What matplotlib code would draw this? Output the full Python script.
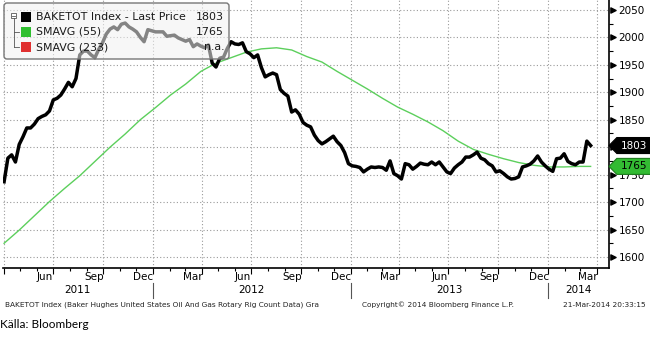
import matplotlib
matplotlib.use('Agg')
import matplotlib.pyplot as plt
import matplotlib.dates as mdates
from matplotlib.patches import FancyBboxPatch, Polygon, Rectangle
from matplotlib.lines import Line2D
from matplotlib.ticker import MultipleLocator, NullFormatter
from matplotlib.transforms import blended_transform_factory
import pandas as pd

# Baker Hughes US rig count, weekly
rig_start = '2011-04-01'
rig_count = [
    1737, 1780, 1786, 1773, 1805, 1819, 1835, 1835, 1842, 1852,
    1856, 1859, 1866, 1886, 1889, 1895, 1906, 1918, 1910, 1925,
    1968, 1975, 1975, 1968, 1963, 1978, 1990, 2006, 2015, 2019,
    2014, 2024, 2026, 2019, 2015, 2010, 2000, 1992, 2014, 2012,
    2010, 2010, 2010, 2002, 2003, 2004, 1999, 1996, 1993, 1996,
    1983, 1988, 1984, 1981, 1986, 1953, 1946, 1962, 1964, 1980,
    1992, 1988, 1987, 1990, 1974, 1970, 1963, 1968, 1945, 1928,
    1932, 1935, 1932, 1905, 1898, 1893, 1864, 1868, 1860, 1845,
    1840, 1837, 1822, 1812, 1806, 1810, 1815, 1820, 1810, 1803,
    1790, 1770, 1766, 1765, 1763, 1755, 1760, 1764, 1763, 1764,
    1763, 1758, 1775, 1752, 1748, 1742, 1770, 1768, 1760, 1765,
    1771, 1769, 1768, 1773, 1768, 1773, 1764, 1755, 1752, 1762,
    1768, 1773, 1782, 1782, 1786, 1791, 1780, 1777, 1770, 1766,
    1755, 1757, 1752, 1746, 1742, 1743, 1746, 1764, 1766, 1769,
    1775, 1784, 1773, 1766, 1760, 1756, 1779, 1780, 1788, 1774,
    1770, 1768, 1773, 1773, 1811, 1803,
]
# 55-week simple moving average, read every 4 weeks plus the last week
sma55 = [
    1625, 1649, 1675, 1701, 1725, 1748, 1774, 1800, 1824, 1850,
    1872, 1895, 1915, 1938, 1953, 1963, 1973, 1979, 1981, 1977,
    1965, 1955, 1938, 1922, 1906, 1889, 1873, 1860, 1846, 1830,
    1811, 1796, 1787, 1779, 1772, 1767, 1764, 1764, 1765, 1765,
]
last_price = 1803
last_sma = 1765

legend_names = ['BAKETOT Index - Last Price', 'SMAVG (55)', 'SMAVG (233)']
legend_values = ['1803', '1765', 'n.a.']
legend_colors = ['#000000', '#2fbf2f', '#e03030']
y_ticks = list(range(1600, 2051, 50))

rig_dates = pd.date_range(rig_start, periods=len(rig_count), freq='7D')
sma_dates = list(rig_dates[::4]) + [rig_dates[-1]]

W, H = 650, 340
fig = plt.figure(figsize=(W / 100, H / 100), dpi=100)
ax = fig.add_axes([3 / W, 1 - 268 / H, 606 / W, 268 / H])

x0, x1 = pd.Timestamp('2011-03-30'), pd.Timestamp('2014-04-24')
ax.set_xlim(x0, x1)
ax.set_ylim(1580, 2068)

ax.plot(rig_dates, rig_count, color='black', lw=2.5, zorder=3)
ax.plot(sma_dates, sma55, color='#5ccf5c', lw=1.0, zorder=2)

# grid + axes style
ax.xaxis.set_major_locator(mdates.MonthLocator(bymonth=[1, 4, 7, 10]))
ax.xaxis.set_minor_locator(mdates.MonthLocator())
ax.xaxis.set_major_formatter(NullFormatter())
# the last-price tag covers the tick label right under it
half = 8 * (2068 - 1580) / 268
ax.set_yticks(y_ticks, ['' if abs(t - last_price) < half else str(t) for t in y_ticks])
ax.yaxis.set_minor_locator(MultipleLocator(25))
ax.grid(True, which='major', color='#9a9a9a', linestyle=(0, (1, 2)), lw=0.8)
for s in ['left', 'top']:
    ax.spines[s].set_visible(False)
for s in ['right', 'bottom']:
    ax.spines[s].set_linewidth(1.2)
ax.tick_params(axis='x', which='major', length=4, width=0.8)
ax.tick_params(axis='x', which='minor', length=2.5, width=0.8)
ax.yaxis.tick_right()
ax.tick_params(axis='y', which='major', length=0, pad=7, labelsize=7.5)
ax.tick_params(axis='y', which='minor', length=3, width=0.8)

ytr = blended_transform_factory(ax.transAxes, ax.transData)
xtr = blended_transform_factory(ax.transData, ax.transAxes)
ax.scatter([1.006] * len(y_ticks), y_ticks, marker='>', s=14, color='black',
           transform=ytr, clip_on=False, zorder=6)

# month labels (mid-month of quarter end) and year labels
for d in pd.date_range('2011-06-01', '2014-03-01', freq='3MS'):
    ax.text(d + pd.Timedelta(days=14), -0.035, d.strftime('%b'), transform=xtr,
            ha='center', va='center', fontsize=7.5)
for yr in [2011, 2012, 2013, 2014]:
    a = max(pd.Timestamp(f'{yr}-01-01'), x0)
    b = min(pd.Timestamp(f'{yr + 1}-01-01'), x1)
    ax.text(a + (b - a) / 2, -0.083, str(yr), transform=xtr,
            ha='center', va='center', fontsize=7.5)
    if yr > 2011:
        ax.add_line(Line2D([a, a], [-0.055, -0.112], transform=xtr, color='#555555',
                           lw=0.8, clip_on=False))

# last value tags on the right axis
for val, face, edge, tc in [(last_price, 'black', 'black', 'white'),
                            (last_sma, '#33bb33', '#1d7a1d', 'black')]:
    ax.add_patch(Polygon([(1.0, val), (1.013, val + half), (1.07, val + half),
                          (1.07, val - half), (1.013, val - half)], closed=True,
                         transform=ytr, facecolor=face, edgecolor=edge, lw=0.8,
                         clip_on=False, zorder=7))
    ax.text(1.042, val, str(val), transform=ytr, ha='center', va='center',
            fontsize=7.5, color=tc, zorder=8, clip_on=False)

# legend box (pixel layout, converted to inches)
px = lambda v: v / 100
ptr = fig.dpi_scale_trans
ax.add_patch(FancyBboxPatch((px(4), px(H - 59)), px(225), px(56),
                            boxstyle='round,pad=0,rounding_size=0.03',
                            transform=ptr, facecolor='#f2f2f2', alpha=0.55,
                            edgecolor='none', zorder=9, clip_on=False))
ax.add_patch(FancyBboxPatch((px(4), px(H - 59)), px(225), px(56),
                            boxstyle='round,pad=0,rounding_size=0.03',
                            transform=ptr, facecolor='none', edgecolor='#777777',
                            lw=1.0, zorder=10, clip_on=False))
rows = [17, 32, 47]
ax.add_patch(Rectangle((px(11), px(H - 18)), px(5), px(5), transform=ptr,
                       facecolor='white', edgecolor='#555555', lw=0.6, zorder=10,
                       clip_on=False))
ax.add_line(Line2D([px(12), px(15)], [px(H - 15.5)] * 2, transform=ptr,
                   color='#555555', lw=0.6, zorder=11))
ax.add_line(Line2D([px(13.5), px(13.5)], [px(H - 18), px(H - rows[2])], transform=ptr,
                   color='#555555', lw=0.6, zorder=11))
for r in rows[1:]:
    ax.add_line(Line2D([px(13.5), px(19)], [px(H - r)] * 2, transform=ptr,
                       color='#555555', lw=0.6, zorder=11))
for r, name, val, c in zip(rows, legend_names, legend_values, legend_colors):
    ax.add_patch(Rectangle((px(21), px(H - r - 5)), px(10), px(10), transform=ptr,
                           facecolor=c, edgecolor='none', zorder=11, clip_on=False))
    ax.text(px(36), px(H - r), name, transform=ptr, ha='left', va='center',
            fontsize=7.9, color='#1a1a1a', zorder=12)
    ax.text(px(224), px(H - r), val, transform=ptr, ha='right', va='center',
            fontsize=7.9, color='#1a1a1a', zorder=12)

# footer
fig.text(5 / W, 1 - 305 / H,
         'BAKETOT Index (Baker Hughes United States Oil And Gas Rotary Rig Count Data) Gra',
         fontsize=5.3, color='#222222', va='center')
fig.text(362 / W, 1 - 305 / H, 'Copyright\u00a9 2014 Bloomberg Finance L.P.',
         fontsize=5.3, color='#222222', va='center')
fig.text(646 / W, 1 - 305 / H, '21-Mar-2014 20:33:15', fontsize=5.3,
         color='#222222', va='center', ha='right')
fig.text(0.5 / W, 1 - 325 / H, 'Källa: Bloomberg', fontsize=8.5, va='center',
         family=['Lato', 'DejaVu Sans'])

fig.savefig('out.png', dpi=100)
